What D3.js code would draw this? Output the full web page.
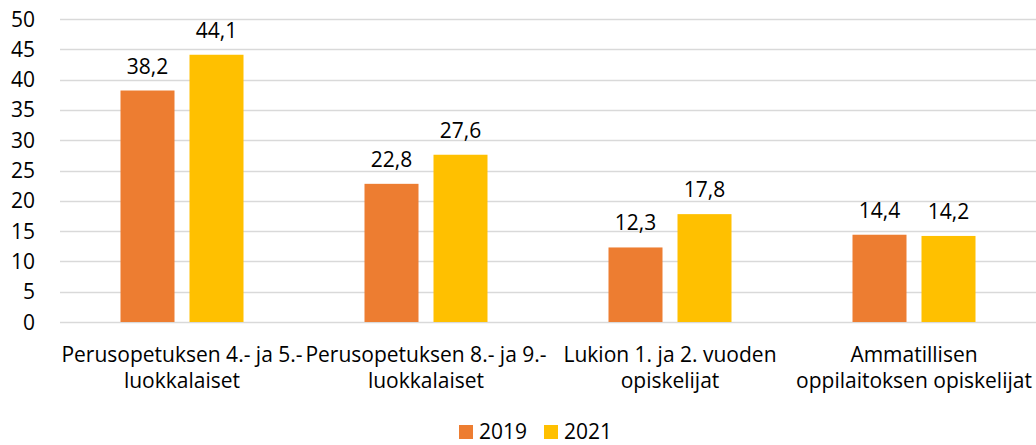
<!DOCTYPE html>
<html lang="en">
<head>
  <meta charset="utf-8" />
  <title>Kyselytulokset 2019 ja 2021</title>
  <script src="https://d3js.org/d3.v7.min.js"></script>
  <style>
    html, body {
      margin: 0;
      padding: 0;
      background: #ffffff;
    }
    svg text {
      font-family: "Open Sans", Lato, "Liberation Sans", sans-serif;
      fill: #000000;
    }
  </style>
</head>
<body>
  <svg id="chart" width="1036" height="445"></svg>
  <script>
    // data
    const categories = [
      ["Perusopetuksen 4.- ja 5.-", "luokkalaiset"],
      ["Perusopetuksen 8.- ja 9.-", "luokkalaiset"],
      ["Lukion 1. ja 2. vuoden", "opiskelijat"],
      ["Ammatillisen", "oppilaitoksen opiskelijat"]
    ];
    const seriesNames = ["2019", "2021"];
    const values2019 = [38.2, 22.8, 12.3, 14.4];
    const values2021 = [44.1, 27.6, 17.8, 14.2];
    const yTicks = [0, 5, 10, 15, 20, 25, 30, 35, 40, 45, 50];
    const colors = ["#ED7D31", "#FFC000"];

    const series = [values2019, values2021];
    const svg = d3.select("#chart");

    const plot = { left: 60, right: 1036, top: 19, bottom: 322 };
    const fontSize = 21;

    const x = d3.scaleBand()
      .domain(d3.range(categories.length))
      .range([plot.left, plot.right]);

    const y = d3.scaleLinear()
      .domain([0, 50])
      .range([plot.bottom, plot.top]);

    // inner offsets for the two bars in a group
    const barW = 54, gap = 15;
    const xs = d3.scaleOrdinal()
      .domain([0, 1])
      .range([-(barW + gap / 2), gap / 2]);

    // gridlines
    svg.append("g")
      .selectAll("line")
      .data(yTicks)
      .join("line")
      .attr("x1", plot.left)
      .attr("x2", plot.right)
      .attr("y1", d => Math.round(y(d)) + 0.5)
      .attr("y2", d => Math.round(y(d)) + 0.5)
      .attr("stroke", "#D9D9D9")
      .attr("stroke-width", 1.5);

    // y axis labels
    svg.append("g")
      .selectAll("text")
      .data(yTicks)
      .join("text")
      .attr("x", 35)
      .attr("y", d => y(d))
      .attr("dy", "0.36em")
      .attr("text-anchor", "end")
      .attr("font-size", fontSize)
      .text(d => d);

    // bars + value labels
    series.forEach((vals, si) => {
      const g = svg.append("g");
      g.selectAll("rect")
        .data(vals)
        .join("rect")
        .attr("x", (d, i) => x(i) + x.bandwidth() / 2 + xs(si))
        .attr("y", d => y(d))
        .attr("width", barW)
        .attr("height", d => y(0) - y(d))
        .attr("fill", colors[si]);

      g.selectAll("text")
        .data(vals)
        .join("text")
        .attr("x", (d, i) => x(i) + x.bandwidth() / 2 + xs(si) + barW / 2)
        .attr("y", d => y(d) - 17)
        .attr("text-anchor", "middle")
        .attr("font-size", fontSize)
        .text(d => d3.format(".1f")(d).replace(".", ","));
    });

    // category labels (two lines each)
    const cat = svg.append("g")
      .selectAll("text")
      .data(categories)
      .join("text")
      .attr("x", (d, i) => x(i) + x.bandwidth() / 2)
      .attr("y", 362)
      .attr("text-anchor", "middle")
      .attr("font-size", fontSize);
    cat.selectAll("tspan")
      .data(d => d)
      .join("tspan")
      .attr("x", function () { return this.parentNode.getAttribute("x"); })
      .attr("dy", (d, i) => i === 0 ? 0 : 26)
      .text(d => d);

    // legend
    const legend = svg.append("g")
      .selectAll("g")
      .data(seriesNames)
      .join("g")
      .attr("transform", (d, i) => `translate(${459 + i * 85},425)`);
    legend.append("rect")
      .attr("width", 14)
      .attr("height", 14)
      .attr("fill", (d, i) => colors[i]);
    legend.append("text")
      .attr("x", 20)
      .attr("y", 14)
      .attr("font-size", fontSize)
      .text(d => d);
  </script>
</body>
</html>
